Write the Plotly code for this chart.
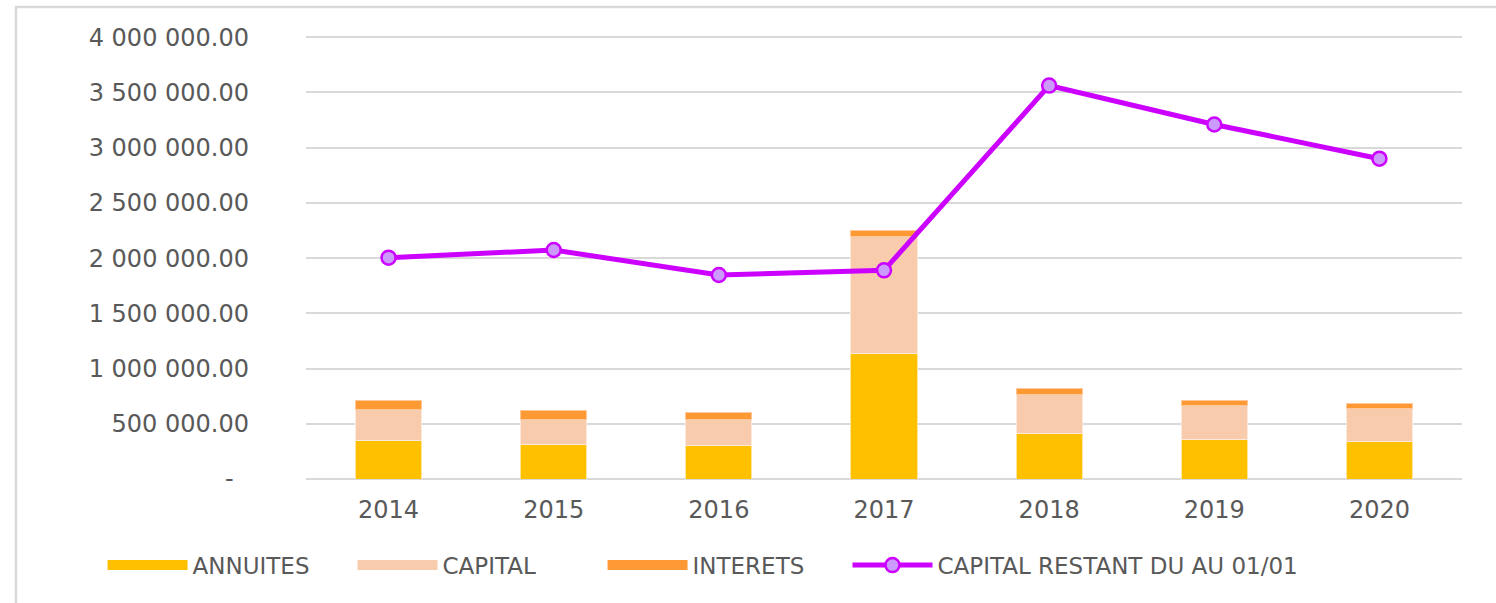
import plotly.graph_objects as go

years = ["2014", "2015", "2016", "2017", "2018", "2019", "2020"]
annuites = [352000, 316000, 301000, 1134000, 409000, 361000, 340000]
capital = [273000, 225000, 240000, 1059000, 352000, 301000, 298000]
interets = [85000, 76000, 61000, 57000, 57000, 48000, 48000]
capital_restant = [2004000, 2073000, 1847000, 1889000, 3562000, 3210000, 2900000]

tick_vals = [0, 500000, 1000000, 1500000, 2000000, 2500000, 3000000, 3500000, 4000000]
tick_text = ["-\u00a0\u00a0", "500 000.00", "1 000 000.00", "1 500 000.00", "2 000 000.00",
             "2 500 000.00", "3 000 000.00", "3 500 000.00", "4 000 000.00"]

FONT = "DejaVu Sans"
GREY = "#595959"

bar_series = [
    ("ANNUITES", annuites, "#FFC000", "#FFE5A0"),
    ("CAPITAL", capital, "#F8CBAD", "#FDE9DC"),
    ("INTERETS", interets, "#FF9933", "#FFC99A"),
]

fig = go.Figure()
for name, vals, col, edge in bar_series:
    fig.add_trace(go.Bar(x=years, y=vals, name=name, legendgroup=name, showlegend=False,
                         marker=dict(color=col, line=dict(color=edge, width=1))))
# legend entries drawn as wide colour swatches (as in the original legend)
for name, vals, col, edge in bar_series:
    fig.add_trace(go.Scatter(x=[None], y=[None], name=name, legendgroup=name, mode="lines",
                             line=dict(color=col, width=13), hoverinfo="skip", legend="legend"))
fig.add_trace(go.Scatter(x=years, y=capital_restant, name="CAPITAL RESTANT DU AU 01/01",
                         mode="lines+markers", legend="legend2",
                         line=dict(color="#CC00FF", width=5),
                         marker=dict(size=14, color="#CC99FF", line=dict(color="#CC00FF", width=2.5))))

legend_common = dict(orientation="h", xanchor="left", y=-0.194, yanchor="middle",
                     font=dict(family=FONT, size=23, color=GREY), itemwidth=80,
                     traceorder="normal", itemclick=False, itemdoubleclick=False,
                     bgcolor="rgba(0,0,0,0)")

fig.update_layout(
    barmode="stack",
    bargap=0.6,
    width=1496, height=603,
    margin=dict(l=306, r=34, t=35, b=124),
    paper_bgcolor="white",
    plot_bgcolor="white",
    font=dict(family=FONT, color=GREY, size=24),
    legend=dict(x=-0.176, entrywidth=155, entrywidthmode="pixels", **legend_common),
    legend2=dict(x=0.4684, **legend_common),
    shapes=[dict(type="rect", xref="paper", yref="paper",
                 x0=-0.2509, x1=1.2, y0=-0.6, y1=1.063,
                 line=dict(color="#D9D9D9", width=2.5), fillcolor="rgba(0,0,0,0)", layer="below")],
)
fig.update_xaxes(showgrid=False, showline=False, ticks="", ticklabelstandoff=14,
                 tickfont=dict(family=FONT, size=24, color=GREY))
fig.update_yaxes(range=[0, 4020000], tickvals=tick_vals, ticktext=tick_text,
                 showgrid=True, gridcolor="#D9D9D9", gridwidth=1.5,
                 zeroline=True, zerolinecolor="#D9D9D9", zerolinewidth=1.5,
                 showline=False, ticks="", ticklabelstandoff=56,
                 tickfont=dict(family=FONT, size=24, color=GREY))

fig.write_html("out.html", config={"displayModeBar": False},
               post_script="document.body.style.margin='0';")
